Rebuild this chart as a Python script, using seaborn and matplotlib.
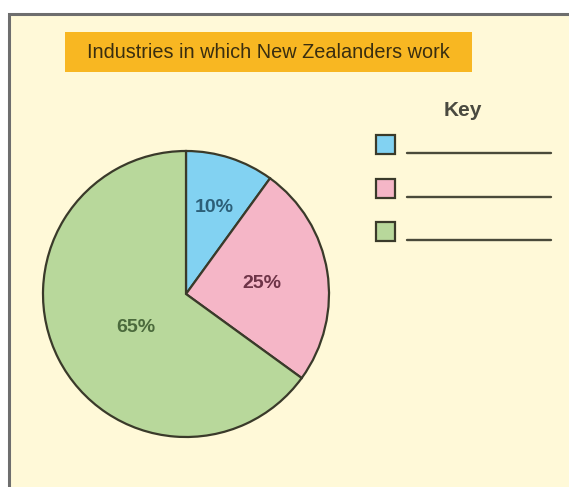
import matplotlib
matplotlib.use("Agg")
import matplotlib.pyplot as plt
from matplotlib.patches import Rectangle
import seaborn as sns

categories = ["Industry A", "Industry B", "Industry C"]
shares = [10, 25, 65]
share_labels = ["10%", "25%", "65%"]
title = "Industries in which New Zealanders work"
key_title = "Key"

colors = ["#82D2F2", "#F5B6C7", "#B8D89B"]
text_colors = ["#2C5F78", "#6E3448", "#4B6A3C"]

sns.set_theme(style="white")
plt.rcParams['font.family'] = ['Liberation Sans', 'DejaVu Sans']

W, H = 569, 487
fig = plt.figure(figsize=(W / 100, H / 100), dpi=100)
fig.patch.set_facecolor("white")
ax = fig.add_axes([0, 0, 1, 1])

def Y(y):
    return H - y

# pie
cx, cy, r = 186, Y(294), 143
wedges, _ = ax.pie(shares, colors=colors, startangle=90, counterclock=False,
                   center=(cx, cy), radius=r, frame=True,
                   wedgeprops=dict(edgecolor="#3A3A2A", linewidth=1.6, zorder=2))
ax.set_xlim(0, W)
ax.set_ylim(0, H)
ax.set_aspect("equal")
ax.axis("off")

# panel background and border
ax.add_patch(Rectangle((9, Y(490)), 600, 490 - 14, facecolor="#FFF9D8",
                       edgecolor="#6E6E6E", linewidth=2.2, zorder=0))

# title banner
ax.add_patch(Rectangle((65, Y(72)), 407, 40, facecolor="#F8B722",
                       edgecolor="none", zorder=1))
ax.text(268, Y(53), title, ha="center", va="center", fontsize=14.3,
        color="#3A2E10", zorder=2)

label_pos = [(214, 208), (262, 283), (136, 327)]
for (lx, ly), lab, tc in zip(label_pos, share_labels, text_colors):
    ax.text(lx, Y(ly), lab, ha="center", va="center", fontsize=14,
            fontweight="bold", color=tc, zorder=5)

# key
ax.text(463, Y(111), key_title, ha="center", va="center", fontsize=15,
        fontweight="bold", color="#4A4A40")
key_ys = [144, 188, 231]
for ky, col in zip(key_ys, colors):
    ax.add_patch(Rectangle((376, Y(ky + 9.5)), 19, 19, facecolor=col,
                           edgecolor="#3A3A2A", linewidth=1.6, zorder=3))
    ax.plot([407, 551], [Y(ky + 9), Y(ky + 9)], color="#4A4A3A", linewidth=1.7)

fig.savefig("out.png", dpi=100, facecolor=fig.get_facecolor())
